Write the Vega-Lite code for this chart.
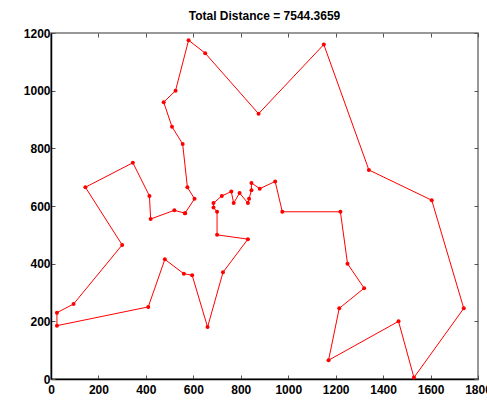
{
  "$schema": "https://vega.github.io/schema/vega-lite/v6.json",
  "autosize": {"type": "none"},
  "padding": {"left": 51, "top": 33, "right": 9, "bottom": 21},
  "width": 427,
  "height": 346,
  "background": "white",
  "title": {"text": "Total Distance = 7544.3659", "font": "Liberation Sans", "fontSize": 12, "fontWeight": "bold", "color": "black", "offset": 4, "baseline": "top"},
  "config": {
    "view": {"stroke": "#777777", "strokeWidth": 1.5},
    "axis": {"grid": false, "domainColor": "black", "domainWidth": 1.5, "tickColor": "#555555", "tickWidth": 1, "labelColor": "black", "labelFont": "Liberation Sans", "labelFontSize": 12, "labelFontWeight": "bold", "title": null, "tickSize": -4, "format": "d", "labelFlush": false, "labelOverlap": false}
  },
  "data": {"values": [
    {"i": 0, "x": 565, "y": 575},
    {"i": 1, "x": 605, "y": 625},
    {"i": 2, "x": 575, "y": 665},
    {"i": 3, "x": 555, "y": 815},
    {"i": 4, "x": 510, "y": 875},
    {"i": 5, "x": 475, "y": 960},
    {"i": 6, "x": 525, "y": 1000},
    {"i": 7, "x": 580, "y": 1175},
    {"i": 8, "x": 650, "y": 1130},
    {"i": 9, "x": 875, "y": 920},
    {"i": 10, "x": 1150, "y": 1160},
    {"i": 11, "x": 1340, "y": 725},
    {"i": 12, "x": 1605, "y": 620},
    {"i": 13, "x": 1740, "y": 245},
    {"i": 14, "x": 1530, "y": 5},
    {"i": 15, "x": 1465, "y": 200},
    {"i": 16, "x": 1170, "y": 65},
    {"i": 17, "x": 1215, "y": 245},
    {"i": 18, "x": 1320, "y": 315},
    {"i": 19, "x": 1250, "y": 400},
    {"i": 20, "x": 1220, "y": 580},
    {"i": 21, "x": 975, "y": 580},
    {"i": 22, "x": 945, "y": 685},
    {"i": 23, "x": 880, "y": 660},
    {"i": 24, "x": 845, "y": 680},
    {"i": 25, "x": 845, "y": 655},
    {"i": 26, "x": 835, "y": 625},
    {"i": 27, "x": 830, "y": 610},
    {"i": 28, "x": 795, "y": 645},
    {"i": 29, "x": 770, "y": 610},
    {"i": 30, "x": 760, "y": 650},
    {"i": 31, "x": 720, "y": 635},
    {"i": 32, "x": 685, "y": 610},
    {"i": 33, "x": 685, "y": 595},
    {"i": 34, "x": 700, "y": 580},
    {"i": 35, "x": 700, "y": 500},
    {"i": 36, "x": 830, "y": 485},
    {"i": 37, "x": 725, "y": 370},
    {"i": 38, "x": 660, "y": 180},
    {"i": 39, "x": 595, "y": 360},
    {"i": 40, "x": 560, "y": 365},
    {"i": 41, "x": 480, "y": 415},
    {"i": 42, "x": 410, "y": 250},
    {"i": 43, "x": 25, "y": 185},
    {"i": 44, "x": 25, "y": 230},
    {"i": 45, "x": 95, "y": 260},
    {"i": 46, "x": 300, "y": 465},
    {"i": 47, "x": 145, "y": 665},
    {"i": 48, "x": 345, "y": 750},
    {"i": 49, "x": 415, "y": 635},
    {"i": 50, "x": 420, "y": 555},
    {"i": 51, "x": 520, "y": 585},
    {"i": 52, "x": 565, "y": 575}
  ]},
  "encoding": {
    "x": {"field": "x", "type": "quantitative", "scale": {"domain": [0, 1800], "nice": false, "zero": false}, "axis": {"values": [0,200,400,600,800,1000,1200,1400,1600,1800], "labelPadding": 9}},
    "y": {"field": "y", "type": "quantitative", "scale": {"domain": [0, 1200], "nice": false, "zero": false}, "axis": {"values": [0,200,400,600,800,1000,1200], "labelPadding": 5}}
  },
  "layer": [
    {"mark": {"type": "line", "color": "#ff0000", "strokeWidth": 1}, "encoding": {"order": {"field": "i", "type": "quantitative"}}},
    {"mark": {"type": "point", "filled": true, "color": "#ff0000", "size": 16, "opacity": 1}, "encoding": {
      "x": {"field": "x", "type": "quantitative", "axis": {"orient": "top", "labels": false, "domain": false, "values": [0,200,400,600,800,1000,1200,1400,1600,1800]}},
      "y": {"field": "y", "type": "quantitative", "axis": {"orient": "right", "labels": false, "domain": false, "values": [0,200,400,600,800,1000,1200]}}
    }}
  ],
  "resolve": {"axis": {"x": "independent", "y": "independent"}}
}
